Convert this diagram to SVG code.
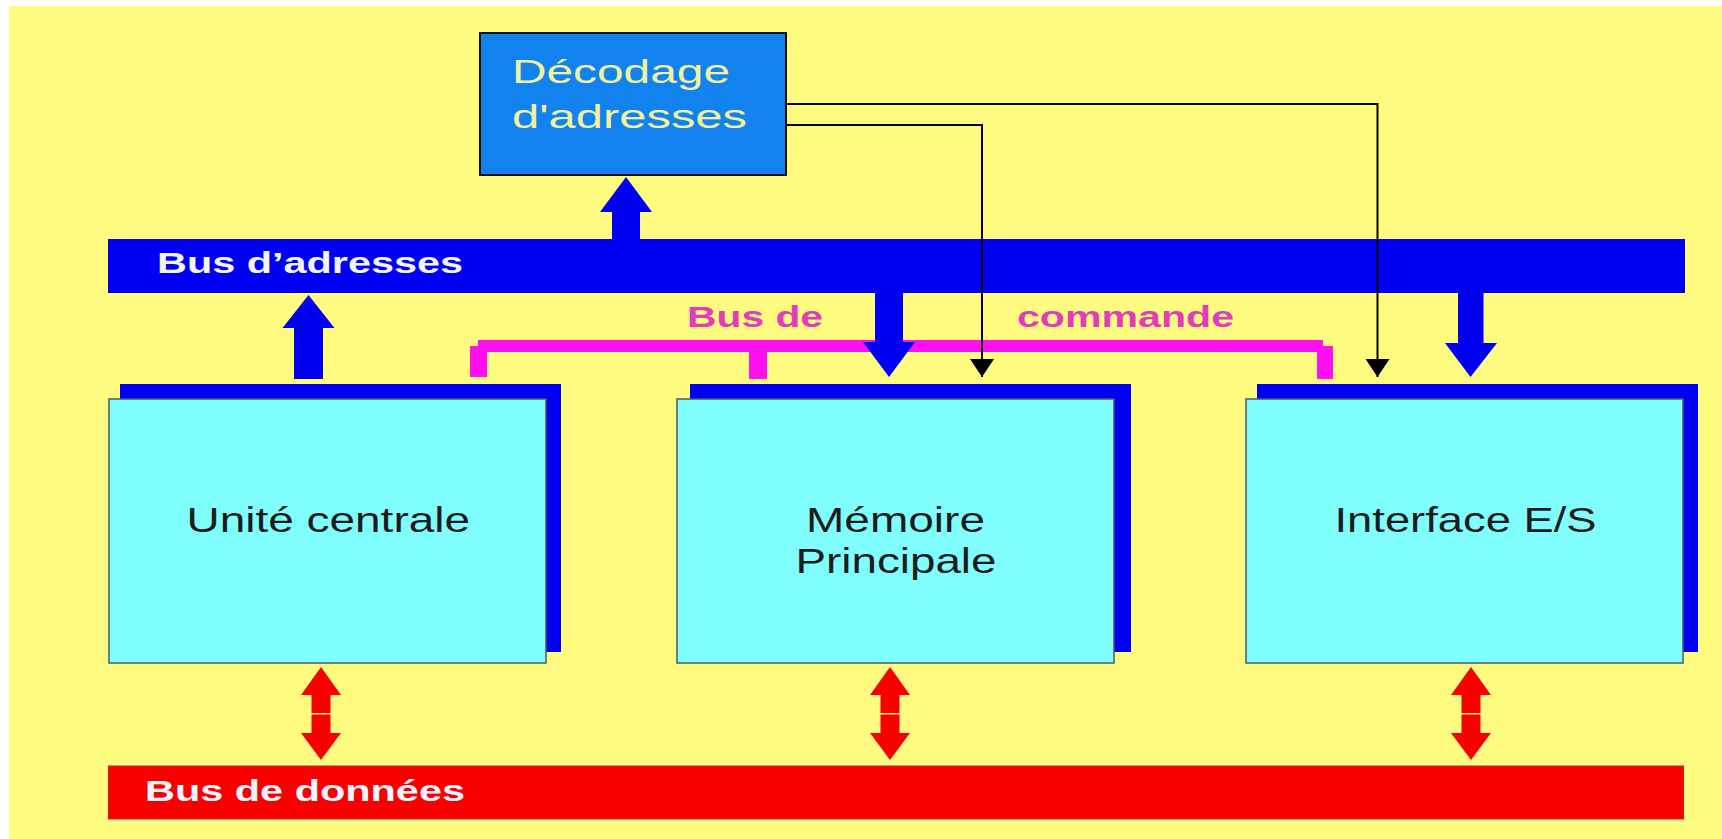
<svg xmlns="http://www.w3.org/2000/svg" width="1722" height="839" viewBox="0 0 1722 839">
  <style>
    .bg { fill: #FFFB80; }
    .bus-blue { fill: #0000F2; }
    .bus-red { fill: #F80000; stroke: #C02818; stroke-width: 1; }
    .back { fill: #0000F2; }
    .front { fill: #80FEFE; stroke: #4A5868; stroke-width: 1.5; }
    .cmd { fill: #FF10F0; }
    .wire { fill: none; stroke: #000; stroke-width: 2; }
    .bus-label { font-family: "Liberation Sans", Arial, sans-serif; font-weight: bold; font-size: 30px; fill: #F4F4FF; }
    .cmd-label { font-family: "Liberation Sans", Arial, sans-serif; font-weight: bold; font-size: 29px; fill: #E23CBC; }
    .node-label { font-family: "Liberation Sans", Arial, sans-serif; font-size: 35px; fill: #1C1C1C; }
    .dec-label { font-family: "Liberation Sans", Arial, sans-serif; font-size: 33px; fill: #F2F29C; }
    .red-arrow { fill: #F80000; }
    .blue-arrow { fill: #0000F2; }
  </style>
  <defs>
    <!-- small filled arrowhead, drawn pointing along +x so orient="auto" follows the line -->
    <marker id="tip" viewBox="0 0 18 24" refX="18" refY="12" markerWidth="18" markerHeight="24" markerUnits="userSpaceOnUse" orient="auto">
      <path d="M0,0 L18,12 L0,24 Z" fill="#000"/>
    </marker>
    <!-- two-headed data link: upper half points up, lower half points down -->
    <g id="data-link">
      <polygon class="red-arrow" points="0,0 20,28 9.5,28 9.5,46 -9.5,46 -9.5,28 -20,28"/>
      <polygon class="red-arrow" points="-9.5,47.5 9.5,47.5 9.5,66 20,66 0,93 -20,66 -9.5,66"/>
    </g>
  </defs>

  <!-- page -->
  <rect x="0" y="0" width="1722" height="839" fill="#FFFFFF"/>
  <rect class="bg" x="9" y="6" width="1713" height="833"/>

  <!-- address bus -->
  <g id="bus-adresses">
    <rect class="bus-blue" x="108" y="239" width="1577" height="54"/>
    <text class="bus-label" x="157" y="273" textLength="306" lengthAdjust="spacingAndGlyphs">Bus d’adresses</text>
  </g>

  <!-- data bus -->
  <g id="bus-donnees">
    <rect class="bus-red" x="108.5" y="766" width="1575" height="53"/>
    <text class="bus-label" x="145" y="801" textLength="320" lengthAdjust="spacingAndGlyphs">Bus de données</text>
  </g>

  <!-- address decoder -->
  <g id="node-decodage">
    <rect x="480" y="33" width="306" height="142" fill="#1282EE" stroke="#111" stroke-width="2"/>
    <text class="dec-label" x="512" y="83" textLength="218" lengthAdjust="spacingAndGlyphs">Décodage</text>
    <text class="dec-label" x="512" y="128" textLength="235" lengthAdjust="spacingAndGlyphs">d'adresses</text>
  </g>

  <!-- central unit -->
  <g id="node-unite">
    <rect class="back" x="120" y="384" width="441" height="268"/>
    <rect class="front" x="109" y="399" width="437" height="264"/>
    <text class="node-label" x="186.5" y="532" textLength="283.5" lengthAdjust="spacingAndGlyphs">Unité centrale</text>
  </g>

  <!-- main memory -->
  <g id="node-memoire">
    <rect class="back" x="690" y="384" width="441" height="268"/>
    <rect class="front" x="677" y="399" width="437" height="264"/>
    <text class="node-label" x="806" y="532" textLength="179" lengthAdjust="spacingAndGlyphs">Mémoire</text>
    <text class="node-label" x="795.5" y="573" textLength="201" lengthAdjust="spacingAndGlyphs">Principale</text>
  </g>

  <!-- I/O interface -->
  <g id="node-interface">
    <rect class="back" x="1257" y="384" width="441" height="268"/>
    <rect class="front" x="1246" y="399" width="437" height="264"/>
    <text class="node-label" x="1334.5" y="532" textLength="262" lengthAdjust="spacingAndGlyphs">Interface E/S</text>
  </g>

  <!-- control bus -->
  <g id="bus-commande">
    <rect class="cmd" x="478" y="340" width="845" height="12"/>
    <rect class="cmd" x="470" y="346" width="17" height="31"/>
    <rect class="cmd" x="749" y="346" width="18" height="33"/>
    <rect class="cmd" x="1317" y="346" width="16" height="33"/>
    <text class="cmd-label" x="687" y="327" textLength="136" lengthAdjust="spacingAndGlyphs">Bus de</text>
    <text class="cmd-label" x="1017" y="327" textLength="217" lengthAdjust="spacingAndGlyphs">commande</text>
  </g>

  <g id="connectors">
    <!-- address bus -> decoder -->
    <polygon class="blue-arrow" points="626,177 652,212 640,212 640,240 612,240 612,212 600,212"/>
    <!-- central unit -> address bus -->
    <polygon class="blue-arrow" points="308.5,295 334.5,328 323,328 323,379 294,379 294,328 282.5,328"/>
    <!-- address bus -> memory -->
    <polygon class="blue-arrow" points="875,292 903,292 903,342 915,342 889,377 863,342 875,342"/>
    <!-- address bus -> I/O interface -->
    <polygon class="blue-arrow" points="1458,292 1483.5,292 1483.5,343 1497,343 1470.5,377 1445,343 1458,343"/>

    <!-- chip-select lines from the decoder -->
    <polyline class="wire" points="786,104 1377.5,104 1377.5,377" marker-end="url(#tip)"/>
    <polyline class="wire" points="786,125 982,125 982,377" marker-end="url(#tip)"/>

    <!-- data links to the data bus -->
    <use href="#data-link" x="321" y="667"/>
    <use href="#data-link" x="890" y="667"/>
    <use href="#data-link" x="1471" y="667"/>
  </g>
</svg>
